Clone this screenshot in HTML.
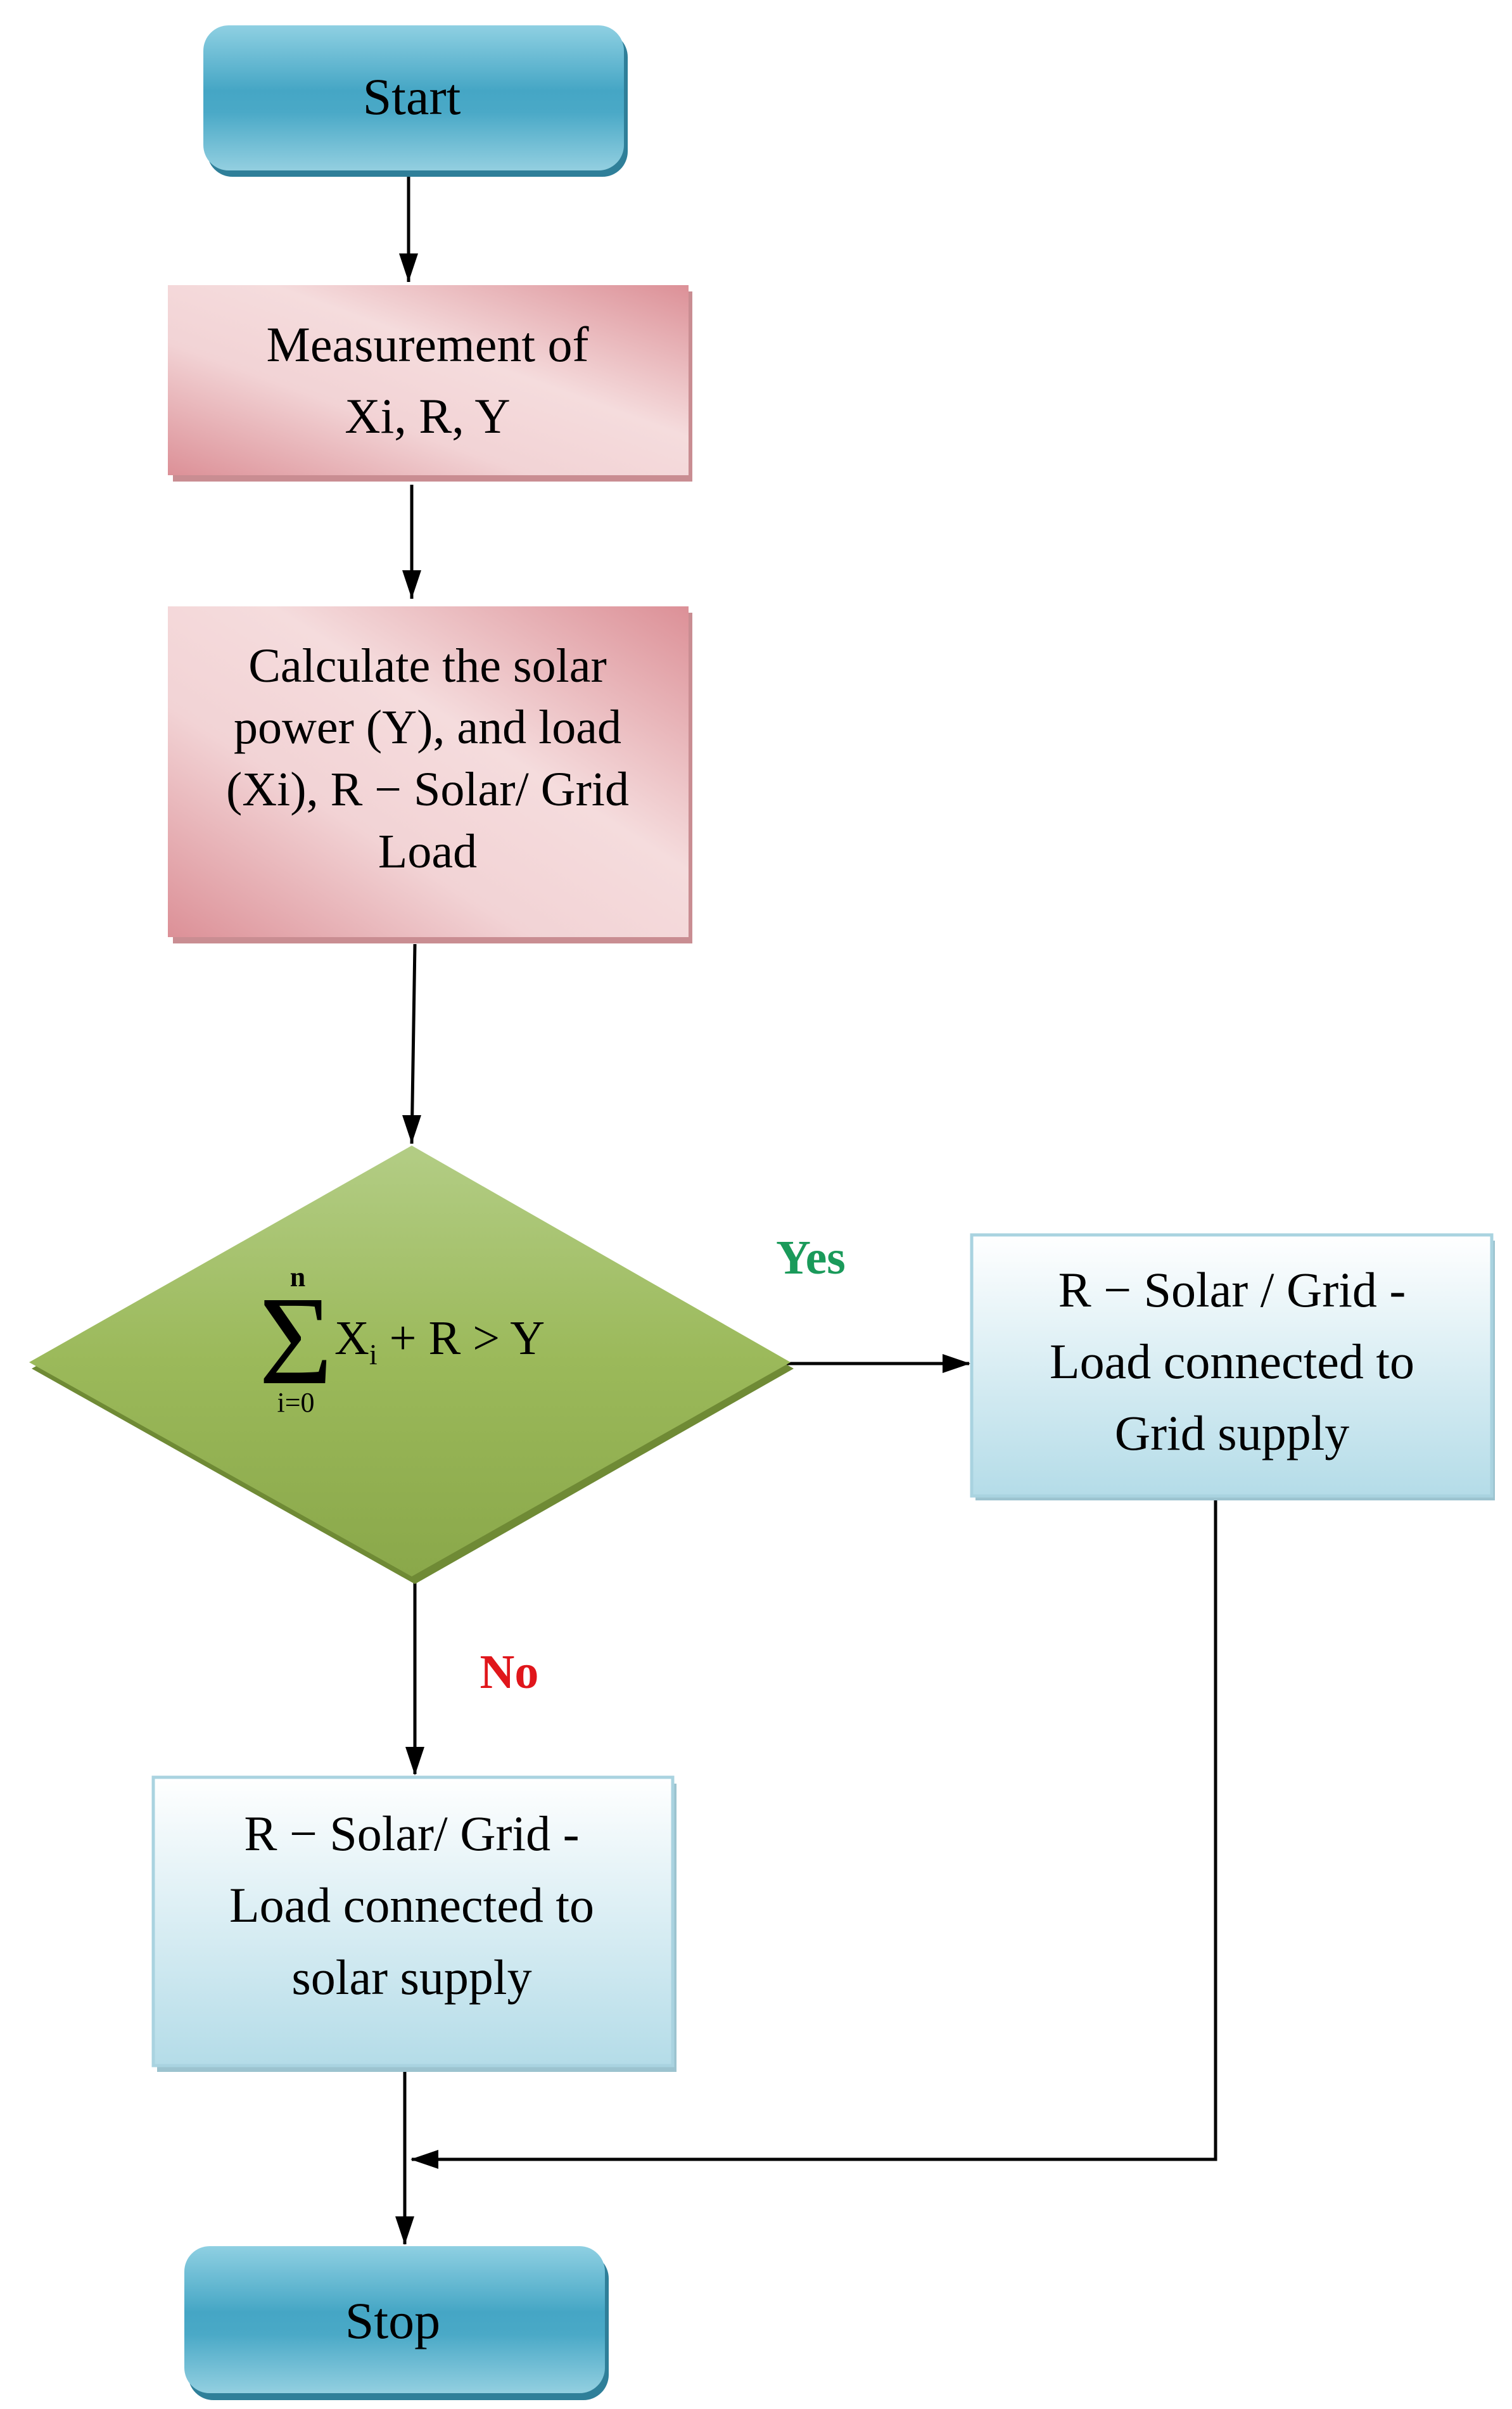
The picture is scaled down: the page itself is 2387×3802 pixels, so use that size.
<!DOCTYPE html>
<html><head><meta charset="utf-8"><style>html,body{margin:0;padding:0;background:#fff}svg{display:block}</style></head>
<body>
<svg width="2387" height="3802" viewBox="0 0 2387 3802" xmlns="http://www.w3.org/2000/svg" font-family="'Liberation Serif', serif">
<defs>
<linearGradient id="blue" x1="0" y1="0" x2="0" y2="1">
<stop offset="0" stop-color="#8fd0e2"/><stop offset="0.45" stop-color="#45a6c5"/><stop offset="0.6" stop-color="#4aa9c7"/><stop offset="1" stop-color="#93cfe0"/></linearGradient>
<linearGradient id="pink" x1="0" y1="1" x2="1" y2="0">
<stop offset="0" stop-color="#dc9097"/><stop offset="0.35" stop-color="#f2d3d5"/><stop offset="0.6" stop-color="#f5dcdd"/><stop offset="1" stop-color="#dc9097"/></linearGradient>
<linearGradient id="lb" x1="0" y1="0" x2="0" y2="1">
<stop offset="0" stop-color="#ffffff"/><stop offset="1" stop-color="#b4dce8"/></linearGradient>
<linearGradient id="green" x1="0" y1="0" x2="0" y2="1">
<stop offset="0" stop-color="#b3cd85"/><stop offset="0.5" stop-color="#9bb95a"/><stop offset="1" stop-color="#8aa84a"/></linearGradient>
</defs>
<g stroke="#000" stroke-width="5" fill="none">
<line x1="645" y1="272" x2="645" y2="445"/>
<path d="M630,400 L660,400 L645,445 z" fill="#000" stroke="none"/>
<line x1="650" y1="765" x2="650" y2="945"/>
<path d="M635,900 L665,900 L650,945 z" fill="#000" stroke="none"/>
<line x1="655" y1="1490" x2="650" y2="1805"/>
<path d="M635,1760 L665,1760 L650,1805 z" fill="#000" stroke="none"/>
<line x1="1230" y1="2152" x2="1530" y2="2152"/>
<path d="M1488,2137 L1488,2167 L1532,2152 z" fill="#000" stroke="none"/>
<line x1="655" y1="2490" x2="655" y2="2800"/>
<path d="M640,2757 L670,2757 L655,2802 z" fill="#000" stroke="none"/>
<polyline points="1919,2363 1919,3408 650,3408"/>
<path d="M692,3393 L692,3423 L648,3408 z" fill="#000" stroke="none"/>
<line x1="639" y1="3270" x2="639" y2="3542"/>
<path d="M624,3498 L654,3498 L639,3543 z" fill="#000" stroke="none"/>
</g>
<!-- Start -->
<rect x="327" y="50" width="664" height="229" rx="40" fill="#2f7f99"/>
<rect x="321" y="40" width="664" height="229" rx="40" fill="url(#blue)"/>
<text x="650" y="180" font-size="82" text-anchor="middle">Start</text>
<!-- Measurement -->
<rect x="273" y="460" width="820" height="300" fill="#c98d92"/>
<rect x="265" y="450" width="822" height="300" fill="url(#pink)"/>
<text font-size="78" text-anchor="middle"><tspan x="675" y="570">Measurement of</tspan><tspan x="675" y="683">Xi, R, Y</tspan></text>
<!-- Calculate -->
<rect x="273" y="967" width="820" height="522" fill="#c98d92"/>
<rect x="265" y="957" width="822" height="522" fill="url(#pink)"/>
<text font-size="76" text-anchor="middle"><tspan x="675" y="1076">Calculate the solar</tspan><tspan x="675" y="1173">power (Y), and load</tspan><tspan x="675" y="1271">(Xi), R − Solar/ Grid</tspan><tspan x="675" y="1369">Load</tspan></text>
<!-- Diamond -->
<polygon points="655,1818 1253,2160 655,2500 50,2160" fill="#6f8a35"/>
<polygon points="650,1808 1248,2150 650,2488 46,2150" fill="url(#green)"/>
<text x="467" y="2183" font-size="200" text-anchor="middle">Σ</text>
<text x="470" y="2030" font-size="44" font-weight="bold" text-anchor="middle">n</text>
<text x="467" y="2228" font-size="44" text-anchor="middle">i=0</text>
<text x="528" y="2137" font-size="76">X<tspan font-size="46" dy="16">i</tspan><tspan dy="-16"> + R &gt; Y</tspan></text>
<text x="1280" y="2010" font-size="76" font-weight="bold" fill="#1a9a5a" text-anchor="middle">Yes</text>
<text x="804" y="2664" font-size="76" font-weight="bold" fill="#e0161b" text-anchor="middle">No</text>
<!-- Right box -->
<rect x="1540" y="1958" width="820" height="410" fill="#9cc3cf"/>
<rect x="1534" y="1949" width="821" height="412" fill="url(#lb)" stroke="#a9d3e0" stroke-width="5"/>
<text font-size="78" text-anchor="middle"><tspan x="1945" y="2062">R − Solar / Grid  -</tspan><tspan x="1945" y="2175">Load connected to</tspan><tspan x="1945" y="2288">Grid supply</tspan></text>
<!-- Bottom box -->
<rect x="248" y="2815" width="820" height="455" fill="#9cc3cf"/>
<rect x="242" y="2805" width="820" height="455" fill="url(#lb)" stroke="#a9d3e0" stroke-width="5"/>
<text font-size="78" text-anchor="middle"><tspan x="650" y="2920">R − Solar/ Grid -</tspan><tspan x="650" y="3033">Load connected to</tspan><tspan x="650" y="3147">solar supply</tspan></text>
<!-- Stop -->
<rect x="297" y="3556" width="664" height="232" rx="40" fill="#2f7f99"/>
<rect x="291" y="3545" width="664" height="232" rx="40" fill="url(#blue)"/>
<text x="620" y="3690" font-size="82" text-anchor="middle">Stop</text>
</svg>
</body></html>
